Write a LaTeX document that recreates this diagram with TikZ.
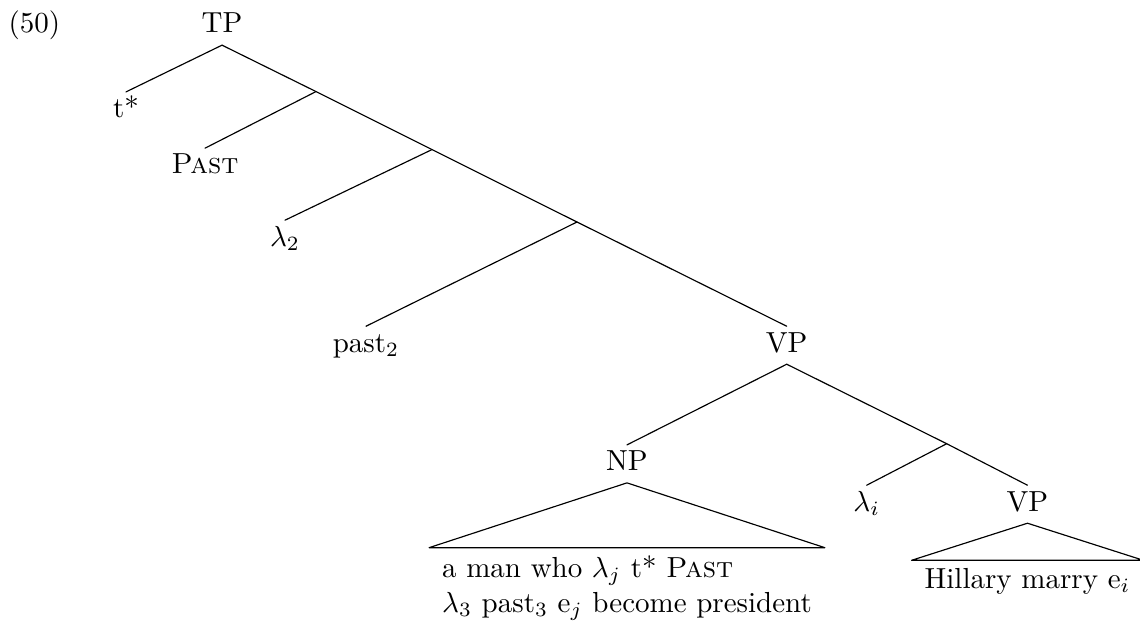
\documentclass[tikz,border=0pt]{standalone}
\usepackage{amsmath,amssymb}
\usepackage{tikz}
\tikzset{
  every picture/.style={line join=round, line cap=round},
  cat/.style={anchor=base, inner sep=2pt, text height=6.7pt, text depth=2pt},
  roof/.style={anchor=north, align=left, inner xsep=4.3pt, inner ysep=2.6pt},
}

\begin{document}
\begin{tikzpicture}
\useasboundingbox (0,0) rectangle (13.817,7.539);
\node[anchor=base west,inner sep=0pt] (exnum) at (0.097,7.139) {(50)};
\node[cat] (tp) at (2.691,7.139) {TP};
\node[cat] (tstar) at (1.527,6.112) {t*};
\node[cat] (past) at (2.485,5.430) {\textsc{Past}};
\node[cat] (lamtwo) at (3.454,4.557) {$\lambda_2$};
\node[cat] (pasttwo) at (4.436,3.272) {past$_2$};
\node[cat] (vp) at (9.535,3.272) {VP};
\node[cat] (np) at (7.599,1.834) {NP};
\node[cat] (lami) at (10.504,1.345) {$\lambda_i$};
\node[cat] (vpb) at (12.453,1.345) {VP};
\node[roof] (npyield) at (7.599,0.901) {a man who $\lambda_j$ t* \textsc{Past}\\$\lambda_3$ past$_3$ e$_j$ become president};
\node[roof] (vpyield) at (12.453,0.748) {Hillary marry e$_i$};
\coordinate (b1) at (3.830,6.429);
\coordinate (b2) at (5.236,5.726);
\coordinate (b3) at (6.993,4.848);
\coordinate (b4) at (11.474,2.161);
\draw (tp.south) -- (b1) -- (b2) -- (b3) -- (vp.north);
\draw (tp.south) -- (tstar.north);
\draw (b1) -- (past.north);
\draw (b2) -- (lamtwo.north);
\draw (b3) -- (pasttwo.north);
\draw (vp.south) -- (np.north);
\draw (vp.south) -- (b4) -- (vpb.north);
\draw (b4) -- (lami.north);
\draw (np.south) -- (npyield.north west) -- (npyield.north east) -- cycle;
\draw (vpb.south) -- (vpyield.north west) -- (vpyield.north east) -- cycle;
\end{tikzpicture}
\end{document}
